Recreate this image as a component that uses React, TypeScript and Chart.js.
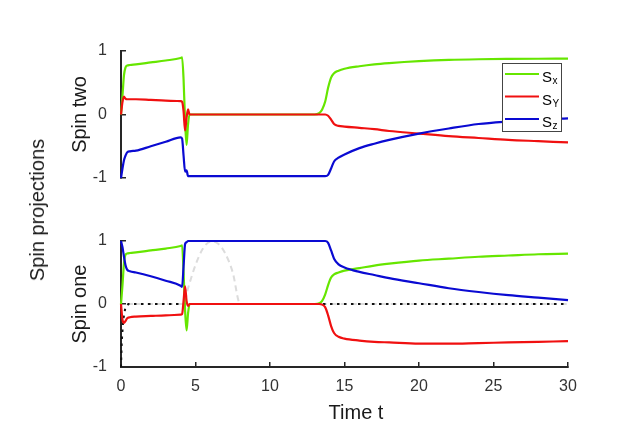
import React, { useRef, useEffect } from 'react';
import Chart, { ChartConfiguration, Plugin } from 'chart.js/auto';

// shared time grid for the spin curves
const timeGrid = [0, 0.1, 0.2, 0.3, 0.4, 0.6, 1, 2, 3, 4, 4.1, 4.2, 4.3, 4.4, 4.5, 4.6, 4.8, 5, 8, 12, 13, 13.3, 13.5, 13.7, 13.9, 14.1, 14.3, 14.6, 15, 16, 17, 18, 20, 22, 24, 26, 28, 30];

// spin two (upper panel)
const sxTwo = [0, 0.3, 0.62, 0.74, 0.77, 0.78, 0.79, 0.82, 0.85, 0.89, 0.9, 0.55, -0.1, -0.48, -0.15, 0, 0, 0, 0, 0, 0, 0.02, 0.08, 0.2, 0.42, 0.58, 0.65, 0.69, 0.72, 0.76, 0.79, 0.81, 0.84, 0.86, 0.87, 0.875, 0.878, 0.88];
const syTwo = [0, 0.2, 0.28, 0.25, 0.24, 0.24, 0.24, 0.23, 0.22, 0.21, 0.2, 0.05, -0.25, -0.05, 0.08, 0, 0, 0, 0, 0, 0, 0, 0, 0, -0.02, -0.08, -0.15, -0.18, -0.19, -0.21, -0.23, -0.26, -0.3, -0.34, -0.37, -0.4, -0.42, -0.44];
const szTwo = [-1, -0.85, -0.72, -0.65, -0.6, -0.58, -0.57, -0.5, -0.43, -0.36, -0.38, -0.65, -0.9, -0.88, -0.97, -0.97, -0.97, -0.97, -0.97, -0.97, -0.97, -0.97, -0.97, -0.97, -0.95, -0.85, -0.74, -0.68, -0.63, -0.53, -0.46, -0.4, -0.3, -0.22, -0.15, -0.11, -0.08, -0.06];

// spin one (lower panel)
const sxOne = [0, 0.3, 0.65, 0.78, 0.8, 0.81, 0.82, 0.85, 0.88, 0.92, 0.93, 0.5, -0.1, -0.42, -0.15, 0, 0, 0, 0, 0, 0, 0.01, 0.05, 0.15, 0.3, 0.42, 0.47, 0.5, 0.53, 0.57, 0.61, 0.64, 0.69, 0.72, 0.75, 0.77, 0.79, 0.8];
const syOne = [0, -0.25, -0.3, -0.27, -0.23, -0.21, -0.2, -0.19, -0.18, -0.17, -0.16, 0.05, 0.28, 0.05, -0.03, 0, 0, 0, 0, 0, 0, 0, -0.01, -0.05, -0.18, -0.35, -0.46, -0.52, -0.55, -0.58, -0.6, -0.61, -0.63, -0.63, -0.62, -0.61, -0.6, -0.59];
const szOne = [1, 0.9, 0.75, 0.62, 0.55, 0.52, 0.5, 0.44, 0.37, 0.29, 0.27, 0.6, 0.95, 0.98, 1, 1, 1, 1, 1, 1, 1, 1, 1, 1, 0.97, 0.85, 0.72, 0.63, 0.58, 0.51, 0.46, 0.41, 0.33, 0.25, 0.19, 0.14, 0.1, 0.06];

// reference curves in the lower panel
const guideTime = [0.4, 4.2, 4.5, 5, 5.5, 6, 6.5, 7, 7.5, 8, 30];
const guideValues = [0, 0, 0.25, 0.62, 0.88, 0.99, 0.96, 0.8, 0.5, 0, 0];
const offsetTime = [0, 0.05, 0.15, 0.3, 0.5, 30];
const offsetValues = [-1, -0.6, -0.25, -0.05, 0, 0];

const timeTicks = [0, 5, 10, 15, 20, 25, 30];
const spinTicks = [-1, 0, 1];
const legendSymbol = 'S';
const legendSubscripts = ['x', 'Y', 'z'];

const FONT = "'Liberation Sans', Arial, Helvetica, sans-serif";
const seriesColors = ['#66e600', '#f01010', '#0a0ad2'];
const axisColor = '#262626';

const toPoints = (xs: number[], ys: number[]) => xs.map((x, i) => ({ x, y: ys[i] }));

const curve = (label: string, xs: number[], ys: number[], color: string, order: number) => ({
  label,
  data: toPoints(xs, ys),
  borderColor: color,
  backgroundColor: color,
  borderWidth: 2.2,
  pointRadius: 0,
  cubicInterpolationMode: 'monotone',
  fill: false,
  order,
  clip: 6,
});

const spinAxis = (title: string) => ({
  type: 'linear',
  min: -1,
  max: 1,
  afterFit: (s: any) => {
    s.width = 121;
  },
  afterBuildTicks: (s: any) => {
    s.ticks = spinTicks.map((value) => ({ value }));
  },
  ticks: { color: '#333', font: { size: 16 }, padding: 19 },
  grid: { drawOnChartArea: false, drawTicks: true, tickLength: -5, tickColor: axisColor, lineWidth: 1.5 },
  border: { display: true, color: axisColor, width: 2 },
  title: { display: true, text: title, color: '#1a1a1a', font: { size: 20 }, padding: { top: 68, bottom: 0 } },
});

const spinLegend: Plugin = {
  id: 'spinLegend',
  afterDraw(chart) {
    const { ctx, chartArea } = chart;
    const w = 59;
    const h = 68;
    const x0 = Math.round(chartArea.right - 7 - w);
    const y0 = Math.round(chartArea.top + 12);
    ctx.save();
    ctx.fillStyle = '#fff';
    ctx.fillRect(x0, y0, w, h);
    ctx.strokeStyle = '#444';
    ctx.lineWidth = 1;
    ctx.strokeRect(x0 + 0.5, y0 + 0.5, w, h);
    legendSubscripts.forEach((sub, i) => {
      const y = y0 + 11 + i * 22.5;
      ctx.strokeStyle = seriesColors[i];
      ctx.lineWidth = 2.2;
      ctx.beginPath();
      ctx.moveTo(x0 + 3, y);
      ctx.lineTo(x0 + 37, y);
      ctx.stroke();
      ctx.fillStyle = '#000';
      ctx.textBaseline = 'alphabetic';
      ctx.textAlign = 'left';
      ctx.font = `15px ${FONT}`;
      ctx.fillText(legendSymbol, x0 + 40, y + 8);
      const sw = ctx.measureText(legendSymbol).width;
      ctx.font = `10px ${FONT}`;
      ctx.fillText(sub, x0 + 40 + sw + 0.5, y + 10);
    });
    ctx.restore();
  },
};

const App: React.FC = () => {
  const topRef = useRef<HTMLCanvasElement | null>(null);
  const bottomRef = useRef<HTMLCanvasElement | null>(null);
  const chartsRef = useRef<Chart[]>([]);

  useEffect(() => {
    Chart.defaults.font.family = FONT;
    const topCtx = topRef.current?.getContext('2d');
    const bottomCtx = bottomRef.current?.getContext('2d');
    if (!topCtx || !bottomCtx) return;

    chartsRef.current.forEach((c) => c.destroy());

    const top = new Chart(topCtx, {
      type: 'line',
      data: {
        datasets: [
          curve('Sx', timeGrid, sxTwo, seriesColors[0], 3),
          curve('Sy', timeGrid, syTwo, seriesColors[1], 2),
          curve('Sz', timeGrid, szTwo, seriesColors[2], 1),
        ],
      },
      options: {
        responsive: false,
        animation: false,
        // the y tick padding also reserves ~29px below the plot, so the bottom margin is 30
        layout: { padding: { top: 51, bottom: 30, left: 0, right: 54 } },
        scales: {
          x: { type: 'linear', min: 0, max: 30, display: false },
          y: spinAxis('Spin two'),
        },
        plugins: { legend: { display: false }, tooltip: { enabled: false } },
      },
      plugins: [spinLegend],
    } as ChartConfiguration);

    const bottom = new Chart(bottomCtx, {
      type: 'line',
      data: {
        datasets: [
          {
            ...curve('guide', guideTime, guideValues, '#dcdcdc', 5),
            borderDash: [6, 4],
            borderWidth: 2,
          },
          {
            ...curve('offset', offsetTime, offsetValues, '#111', 4),
            cubicInterpolationMode: 'default',
            borderDash: [2.5, 4.5],
            borderWidth: 2,
          },
          curve('Sx', timeGrid, sxOne, seriesColors[0], 3),
          curve('Sy', timeGrid, syOne, seriesColors[1], 2),
          curve('Sz', timeGrid, szOne, seriesColors[2], 1),
        ],
      },
      options: {
        responsive: false,
        animation: false,
        layout: { padding: { top: 41, bottom: 0, left: 0, right: 54 } },
        scales: {
          x: {
            type: 'linear',
            min: 0,
            max: 30,
            afterFit: (s: any) => {
              s.height = 72;
            },
            afterBuildTicks: (s: any) => {
              s.ticks = timeTicks.map((value) => ({ value }));
            },
            ticks: { color: '#333', font: { size: 16 }, padding: 15, maxRotation: 0 },
            grid: { drawOnChartArea: false, drawTicks: true, tickLength: -5, tickColor: axisColor, lineWidth: 1.5 },
            border: { display: true, color: axisColor, width: 2 },
          },
          y: spinAxis('Spin one'),
        },
        plugins: { legend: { display: false }, tooltip: { enabled: false } },
      },
    } as ChartConfiguration);

    chartsRef.current = [top, bottom];

    return () => {
      chartsRef.current.forEach((c) => c.destroy());
      chartsRef.current = [];
    };
  }, []);

  const label: React.CSSProperties = {
    position: 'absolute',
    fontFamily: FONT,
    fontSize: 20,
    color: '#1a1a1a',
    whiteSpace: 'nowrap',
    lineHeight: 1,
  };

  return (
    <div style={{ position: 'absolute', left: 0, top: 0, width: 622, height: 439, background: '#fff' }}>
      <canvas ref={topRef} width={622} height={208} style={{ position: 'absolute', left: 0, top: 0 }} />
      <canvas ref={bottomRef} width={622} height={239} style={{ position: 'absolute', left: 0, top: 200 }} />
      <div style={{ ...label, left: 37, top: 210, transform: 'translate(-50%, -50%) rotate(-90deg)' }}>Spin projections</div>
      <div style={{ ...label, left: 356, top: 412, transform: 'translate(-50%, -50%)' }}>Time t</div>
    </div>
  );
};

export default App;
